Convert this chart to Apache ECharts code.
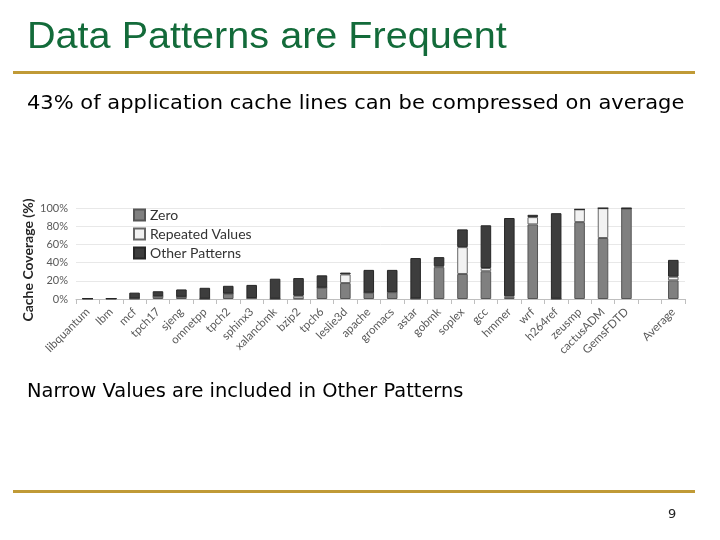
<!DOCTYPE html>
<html>
<head>
<meta charset="utf-8">
<script src="https://cdn.jsdelivr.net/npm/echarts@6/dist/echarts.min.js"></script>
<style>
html,body{margin:0;padding:0;background:#fff;}
#c{width:720px;height:540px;}
</style>
</head>
<body>
<div id="c"></div>
<script>
var categories = ['libquantum','lbm','mcf','tpch17','sjeng','omnetpp','tpch2','sphinx3','xalancbmk','bzip2','tpch6','leslie3d','apache','gromacs','astar','gobmk','soplex','gcc','hmmer','wrf','h264ref','zeusmp','cactusADM','GemsFDTD','','Average'];
var zeroVals     = [0.3, 0.3, 0.5, 3.0, 2.5, 0.3, 6.0, 1.0, 0.3, 0.5, 12.5, 17.5, 7.0, 7.5, 0.5, 35.0, 27.5, 30.5, 1.0, 82.0, 0.3, 84.5, 67.0, 99.5, null, 20.5];
var repeatedVals = [0.2, 0.2, 0.0, 0.0, 0.0, 0.0, 0.0, 0.0, 0.0, 3.0, 0.0, 9.5, 0.0, 0.0, 0.0, 1.0, 29.5, 3.5, 2.0, 8.0, 0.0, 14.0, 32.8, 0.0, null, 4.0];
var otherVals    = [0.0, 0.0, 6.5, 5.5, 8.0, 12.0, 8.5, 14.5, 22.0, 19.5, 13.5, 2.0, 25.0, 24.5, 44.5, 10.0, 19.5, 47.0, 86.0, 2.5, 94.0, 0.0, 0.0, 0.5, null, 18.5];
var yTicks = [0, 20, 40, 60, 80, 100];

var chart = echarts.init(document.getElementById('c'), null, {renderer:'canvas'});
var font = 'Lato, "Open Sans", sans-serif';
var slideFont = '"DejaVu Sans", sans-serif';

chart.setOption({
  backgroundColor: '#ffffff',
  animation: false,
  graphic: [
    {type:'text', x:27, y:20, scaleX:1.1, style:{text:'Data Patterns are Frequent', font:'36px "Liberation Sans", Arial, sans-serif', fill:'#136b3a'}},
    {type:'rect', shape:{x:13, y:71, width:682, height:3}, style:{fill:'#c09a36'}},
    {type:'text', x:27, y:94, scaleX:1.05, style:{text:'43% of application cache lines can be compressed on average', font:'20px ' + slideFont, fill:'#000'}},
    {type:'text', x:27, y:382, scaleX:0.97, style:{text:'Narrow Values are included in Other Patterns', font:'20px ' + slideFont, fill:'#000'}},
    {type:'rect', shape:{x:13, y:490, width:682, height:3}, style:{fill:'#c09a36'}},
    {type:'text', x:668, y:508, style:{text:'9', font:'13px ' + slideFont, fill:'#222'}},
    {type:'text', x:28, y:260, rotation:Math.PI/2,
     style:{text:'Cache Coverage (%)', font:'bold 14px ' + font, fill:'#262626', align:'center', verticalAlign:'middle'}}
  ],
  legend: {
    orient: 'vertical',
    left: 128, top: 203,
    itemWidth: 11, itemHeight: 11, itemGap: 5,
    icon: 'rect',
    textStyle: {fontFamily: font, fontSize: 14, color: '#333'},
    data: ['Zero', 'Repeated Values', 'Other Patterns']
  },
  grid: {left: 76, right: 35, top: 208, bottom: 241},
  xAxis: {
    type: 'category',
    data: categories,
    axisLine: {lineStyle: {color: '#bfbfbf'}},
    axisTick: {show: true, length: 5, lineStyle: {color: '#bfbfbf'}},
    axisLabel: {interval: 0, rotate: 45, fontFamily: font, fontSize: 11.5, color: '#595959', margin: 11}
  },
  yAxis: {
    type: 'value',
    min: 0, max: 100, interval: 20,
    axisLabel: {formatter: '{value}%', fontFamily: font, fontSize: 11, color: '#595959', margin: 8},
    splitLine: {lineStyle: {color: '#e8e8e8'}},
    axisLine: {show: false},
    axisTick: {show: false}
  },
  series: [
    {name:'Zero', type:'bar', stack:'s', data: zeroVals, barWidth: '45%',
     itemStyle:{color:'#808080', borderColor:'#555', borderWidth:1}},
    {name:'Repeated Values', type:'bar', stack:'s', data: repeatedVals, barWidth: '45%',
     itemStyle:{color:'#f2f2f2', borderColor:'#666', borderWidth:1}},
    {name:'Other Patterns', type:'bar', stack:'s', data: otherVals, barWidth: '45%',
     itemStyle:{color:'#3d3d3d', borderColor:'#262626', borderWidth:1}}
  ]
});
</script>
</body>
</html>
